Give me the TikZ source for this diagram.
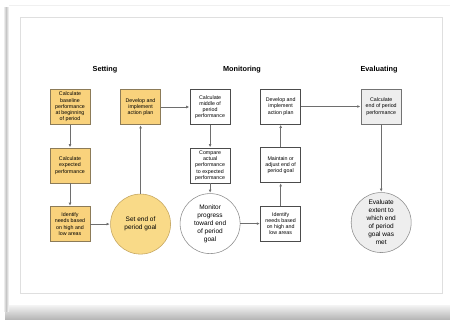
\documentclass[tikz,border=0pt]{standalone}
\usepackage{fontspec}
\setmainfont{Liberation Sans}
\usetikzlibrary{arrows.meta,positioning,shapes}

\definecolor{ylwfill}{HTML}{F9D27C}
\definecolor{ylwedge}{HTML}{8C7B58}
\definecolor{goalfill}{HTML}{F9DA88}
\definecolor{goaledge}{HTML}{C4A55E}
\definecolor{lightfill}{HTML}{EEEEEE}
\definecolor{arrowgray}{HTML}{6E6E6E}

\begin{document}
\begin{tikzpicture}[
  x=1pt, y=1pt,
  node distance=23pt,
  >=Latex,
  box/.style={rectangle, draw=black!70, line width=0.55pt, align=center, inner sep=1pt,
    minimum width=40pt, minimum height=35pt, font=\fontsize{5.3}{6.2}\selectfont},
  ybox/.style={box, fill=ylwfill, draw=ylwedge},
  gbox/.style={box, fill=lightfill, draw=black!55},
  goal/.style={circle, draw=black!45, line width=0.55pt, align=center, inner sep=0pt,
    minimum size=60pt, font=\fontsize{6.5}{8}\selectfont},
  head/.style={font=\fontsize{7.3}{9}\selectfont\bfseries},
  line/.style={draw=arrowgray, line width=0.6pt, shorten >=0.6pt, -{Latex[length=3pt,width=2.8pt]}}
]
\useasboundingbox (0,0) rectangle (450,320);

\fill[white] (5,12) rectangle (450,315);
\shade[top color=gray!12, bottom color=gray!60] (5,0) rectangle (450,14);
\shade[left color=white, right color=gray!45] (3,8) rectangle (6,312);
\shade[left color=gray!45, right color=white] (6,8) rectangle (9,312);
\draw[gray!12, line width=0.5pt] (9,315) -- (450,315);
\draw[gray!25, line width=0.6pt] (20,27) rectangle (442,303);

\node[head] (setting) at (105,250) {Setting};
\node[head] (monitoring) at (242,250) {Monitoring};
\node[head] (evaluating) at (379,250) {Evaluating};

\node[ybox] (baseline) at (70,213) {Calculate\\baseline\\performance\\at beginning\\of period};
\node[ybox, below=of baseline] (expected) {Calculate\\expected\\performance};
\node[ybox, below=of expected] (needsA) {Identify\\needs based\\on high and\\low areas};
\node[goal, fill=goalfill, draw=goaledge, right=20pt of needsA] (goalA) {Set end of\\period goal};
\node[ybox, right=30pt of baseline] (planA) {Develop and\\implement\\action plan};

\node[box, right=29pt of planA] (calcMid) {Calculate\\middle of\\period\\performance};
\node[box, below=of calcMid] (compare) {Compare\\actual\\performance\\to expected\\performance};
\node[goal, below=10pt of compare] (monitor) {Monitor\\progress\\toward end\\of period\\goal};
\node[box, right=20pt of monitor] (needsB) {Identify\\needs based\\on high and\\low areas};
\node[box, above=of needsB] (maintain) {Maintain or\\adjust end of\\period goal};
\node[box, above=of maintain] (planB) {Develop and\\implement\\action plan};

\node[gbox, right=60pt of planB] (calcEnd) {Calculate\\end of period\\performance};
\node[goal, fill=lightfill, below=68pt of calcEnd] (evaluate) {Evaluate\\extent to\\which end\\of period\\goal was\\met};

\path[line] (baseline) -- (expected);
\path[line] (expected) -- (needsA);
\path[line] (needsA) -- (goalA);
\path[line] (goalA) -- (planA);
\path[line] (planA) -- (calcMid);
\path[line] (calcMid) -- (compare);
\path[line] (compare) -- (monitor);
\path[line] (monitor) -- (needsB);
\path[line] (needsB) -- (maintain);
\path[line] (maintain) -- (planB);
\path[line] (planB) -- (calcEnd);
\path[line] (calcEnd) -- (evaluate);

\end{tikzpicture}
\end{document}
